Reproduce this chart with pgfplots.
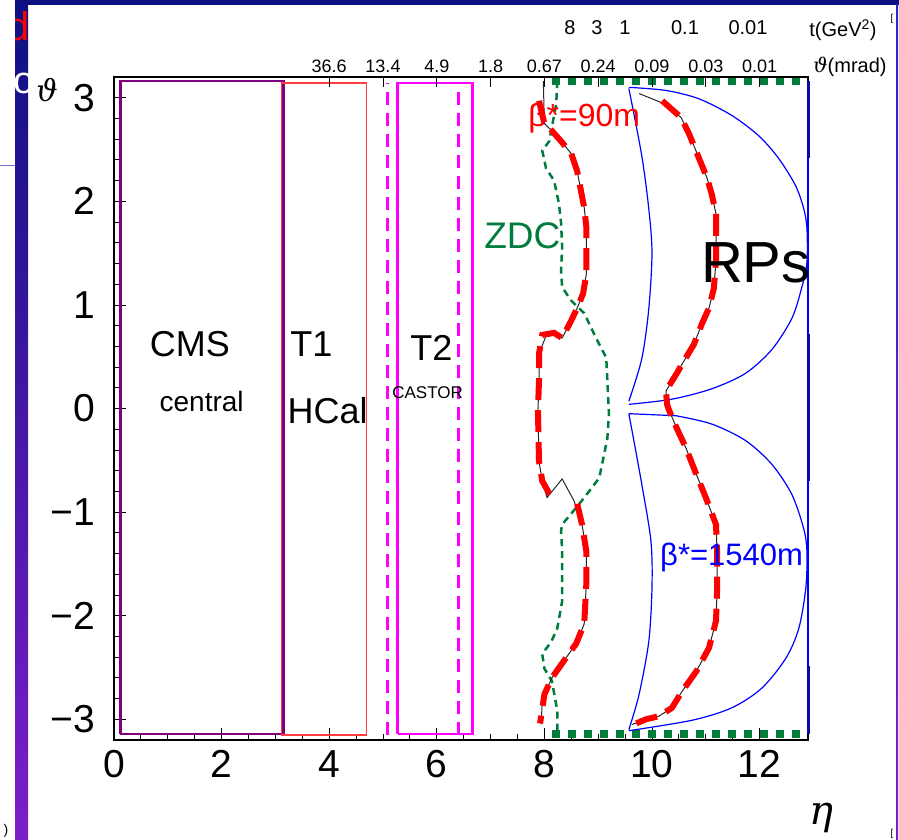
\documentclass[border=0pt]{standalone}
\usepackage{fontspec}
\setmainfont{Liberation Sans}
\newfontfamily\grk{DejaVu Serif}
\usepackage{pgfplots}
\pgfplotsset{compat=1.18}
\definecolor{navy}{RGB}{12,16,130}
\definecolor{barmid}{RGB}{25,30,200}
\definecolor{barbot}{RGB}{125,30,200}
\definecolor{cmspurple}{RGB}{128,0,128}
\definecolor{t1red}{RGB}{255,60,60}
\definecolor{mag}{RGB}{255,0,255}
\definecolor{zdcgreen}{RGB}{0,125,60}
\definecolor{rpred}{RGB}{255,0,0}
\definecolor{rpblue}{RGB}{0,0,255}
\definecolor{darkblue}{RGB}{10,10,170}
\newcommand\tfont{\fontsize{39}{40}\selectfont}
\begin{document}
\begin{tikzpicture}
\path[use as bounding box] (0pt,0pt) rectangle (899pt,840pt);
% slide decoration
\shade[top color=navy, middle color=barmid, bottom color=barbot] (15pt,0pt) rectangle (28pt,840pt);
\fill[navy] (15pt,835pt) rectangle (899pt,840pt);
\draw[color={rgb,255:red,110;green,110;blue,200}, line width=1pt] (0pt,674pt) -- (15pt,674pt);
\shade[top color={rgb,255:red,40;green,40;blue,200}, bottom color=barbot] (896pt,0pt) rectangle (898pt,835pt);
\begin{scope}
\clip (15pt,0pt) rectangle (28pt,840pt);
\node[text=red, font=\fontsize{40}{40}\selectfont, anchor=east, inner sep=0pt] at (29.5pt,814pt) {\makebox[13pt][r]{d}};
\node[text=white, font=\fontsize{38}{38}\selectfont, anchor=west, inner sep=0pt] at (13pt,757pt) {\makebox[13pt][l]{o}};
\end{scope}
\node[font=\fontsize{14}{14}\selectfont, inner sep=0pt] at (6pt,9pt) {)};
\node[font=\fontsize{10}{10}\selectfont, inner sep=0pt] at (892pt,6pt) {[};
\node[font=\fontsize{10}{10}\selectfont, inner sep=0pt] at (892pt,821pt) {[};

\begin{axis}[at={(114pt,100pt)}, anchor=south west,
  width=694pt, height=663pt, scale only axis, clip=false,
  xmin=0, xmax=12.9, ymin=-3.2, ymax=3.2,
  xtick={0,2,...,12}, xticklabels={0,2,4,6,8,10,12},
  minor x tick num=3,
  ytick={-3,...,3}, yticklabels={−3,−2,−1,0,1,2,3},
  minor y tick num=4,
  tick align=inside, xtick pos=bottom, ytick pos=left,
  major tick length=12pt, minor tick length=6pt,
  tick style={black, line width=0.8pt},
  axis line style={black, line width=1.2pt},
  xticklabel style={font=\tfont, inner sep=0pt, yshift=-10pt},
  yticklabel style={font=\tfont, inner sep=0pt, xshift=-19pt},
]
% CMS central
\addplot[cmspurple, line width=2.5pt] coordinates {(0.12,-3.14)(3.15,-3.14)(3.15,3.16)(0.12,3.16)(0.12,-3.14)};
% T1 HCal
\addplot[t1red, line width=1.5pt] coordinates {(3.11,-3.15)(4.69,-3.15)(4.69,3.14)(3.11,3.14)(3.11,-3.15)};
% T2 / CASTOR
\addplot[mag, line width=2.5pt] coordinates {(5.27,-3.14)(6.66,-3.14)(6.66,3.14)(5.27,3.14)(5.27,-3.14)};
\addplot[mag, line width=2.5pt, dash pattern=on 13pt off 8pt] coordinates {(5.08,-3.15)(5.08,3.14)};
\addplot[mag, line width=2.5pt, dash pattern=on 13pt off 8pt] coordinates {(6.40,-3.15)(6.40,3.14)};
% ZDC
\addplot[zdcgreen, line width=8pt, dash pattern=on 8pt off 8pt] coordinates {(8.15,3.16)(12.78,3.16)};
\addplot[zdcgreen, line width=8pt, dash pattern=on 8pt off 8pt] coordinates {(8.15,-3.14)(12.78,-3.14)};
\addplot[zdcgreen, line width=2.5pt, dash pattern=on 7pt off 5pt] coordinates {
(8.24,3.16)(8.22,2.94)(8.09,2.58)(7.96,2.49)(8.03,2.32)(8.18,2.20)(8.27,1.98)(8.31,1.79)
(8.33,1.56)(8.31,1.33)(8.33,1.17)(8.50,1.04)(8.74,0.92)(8.96,0.68)(9.15,0.49)(9.17,0.27)
(9.20,-0.05)(9.17,-0.29)(9.02,-0.67)(8.83,-0.80)(8.65,-0.92)(8.33,-1.12)(8.31,-1.18)
(8.33,-1.38)(8.33,-1.86)(8.24,-2.12)(8.13,-2.25)(7.96,-2.37)(8.00,-2.51)(8.14,-2.63)
(8.24,-2.92)(8.24,-3.14)};
% RP beta*=1540m (blue)
\addplot[rpblue, line width=1.2pt, smooth] coordinates {
(9.57,3.09)(9.81,2.44)(9.94,1.93)(10.00,1.50)(9.94,0.96)(9.81,0.48)(9.57,0.07)};
\addplot[rpblue, line width=1.2pt, smooth] coordinates {
(9.57,3.10)(10.26,3.07)(10.87,2.99)(11.48,2.83)(11.99,2.63)(12.36,2.41)(12.67,2.15)(12.82,1.93)
(12.88,1.74)(12.88,1.41)(12.78,1.16)(12.60,0.87)(12.23,0.57)(11.74,0.34)(11.11,0.19)(10.37,0.09)(9.57,0.04)};
\addplot[rpblue, line width=1.2pt] coordinates {(9.57,-0.05)(10.45,-0.07)};
\addplot[rpblue, line width=1.2pt, smooth] coordinates {
(10.45,-0.07)(11.11,-0.15)(11.74,-0.31)(12.23,-0.54)(12.60,-0.83)(12.82,-1.16)(12.88,-1.38)
(12.86,-1.73)(12.73,-2.12)(12.49,-2.41)(12.04,-2.70)(11.48,-2.89)(10.74,-3.01)(9.57,-3.11)};
\addplot[rpblue, line width=1.2pt, smooth] coordinates {
(9.57,-0.05)(9.81,-0.73)(9.98,-1.28)(10.00,-1.73)(9.94,-2.25)(9.76,-2.76)(9.57,-3.10)};
\addplot[darkblue, line width=3pt] coordinates {(12.9,3.16)(12.9,2.42)};
\addplot[rpblue, line width=1.2pt] coordinates {(12.9,2.42)(12.9,0.72)};
\addplot[darkblue, line width=3pt] coordinates {(12.9,0.72)(12.9,-0.70)};
\addplot[rpblue, line width=1.2pt] coordinates {(12.9,-0.70)(12.9,-2.49)};
\addplot[darkblue, line width=3pt] coordinates {(12.9,-2.49)(12.9,-3.14)};
% RP beta*=90m (black acceptance + red dashed)
\addplot[black!85, line width=1pt] coordinates {
(7.98,3.16)(8.00,2.75)(8.14,2.68)(8.31,2.58)(8.50,2.46)(8.61,2.29)(8.68,2.10)(8.74,1.94)
(8.78,1.75)(8.78,1.55)(8.78,1.30)(8.72,1.11)(8.61,0.97)(8.50,0.85)(8.33,0.68)(8.18,0.72)
(8.03,0.70)(7.90,0.53)(7.90,0.27)(7.88,-0.02)(7.90,-0.51)(7.96,-0.70)(8.05,-0.86)(8.33,-0.68)
(8.55,-0.89)(8.70,-1.12)(8.78,-1.38)(8.78,-1.69)(8.74,-2.08)(8.59,-2.27)(8.33,-2.46)
(8.14,-2.60)(8.00,-2.76)(7.96,-2.83)(7.94,-3.05)};
\addplot[black!85, line width=1pt] coordinates {
(9.76,3.04)(10.19,2.95)(10.54,2.81)(10.69,2.65)(10.87,2.42)(11.02,2.23)(11.11,2.07)(11.19,1.88)
(11.19,1.65)(11.19,1.43)(11.15,1.16)(11.06,0.97)(10.93,0.82)(10.78,0.62)(10.63,0.49)(10.45,0.33)
(10.26,0.17)(10.28,0.04)(10.32,-0.02)(10.46,-0.19)(10.63,-0.38)(10.82,-0.63)(11.00,-0.86)
(11.19,-1.12)(11.21,-1.38)(11.21,-1.76)(11.19,-2.05)(11.06,-2.31)(10.82,-2.54)(10.56,-2.73)
(10.37,-2.89)(10.13,-2.97)(9.89,-3.00)(9.63,-3.05)};
\addplot[rpred, line width=6pt, dash pattern=on 22pt off 10pt] coordinates {
(7.90,2.97)(8.00,2.75)(8.14,2.68)(8.31,2.58)(8.50,2.46)(8.61,2.29)(8.68,2.10)(8.74,1.94)
(8.78,1.75)(8.78,1.55)(8.78,1.30)(8.72,1.11)(8.61,0.97)(8.50,0.85)(8.33,0.68)(8.18,0.73)
(7.96,0.71)(7.90,0.53)(7.90,0.27)(7.88,-0.02)(7.90,-0.51)(7.96,-0.70)(8.09,-0.82)(8.24,-0.86)};
\addplot[rpred, line width=6pt, dash pattern=on 22pt off 10pt] coordinates {
(8.61,-0.92)(8.70,-1.12)(8.78,-1.38)(8.78,-1.69)(8.74,-2.08)(8.59,-2.27)(8.33,-2.46)
(8.14,-2.60)(8.00,-2.76)(7.92,-3.04)};
\addplot[rpred, line width=6pt, dash pattern=on 22pt off 10pt] coordinates {
(10.19,2.97)(10.54,2.81)(10.69,2.65)(10.87,2.42)(11.02,2.23)(11.11,2.07)(11.19,1.88)
(11.19,1.65)(11.19,1.43)(11.15,1.16)(11.06,0.97)(10.93,0.82)(10.78,0.62)(10.63,0.49)(10.45,0.33)
(10.26,0.17)(10.28,0.04)(10.32,-0.02)(10.46,-0.19)(10.63,-0.38)(10.82,-0.63)(11.00,-0.86)
(11.19,-1.12)(11.21,-1.38)(11.21,-1.76)(11.19,-2.05)(11.06,-2.31)(10.82,-2.54)(10.56,-2.73)
(10.37,-2.89)(10.13,-2.97)(9.89,-3.00)(9.61,-3.06)};
% labels
\node[font=\fontsize{36}{36}\selectfont] at (axis cs:1.41,0.62) {CMS};
\node[font=\fontsize{28}{28}\selectfont] at (axis cs:1.63,0.07) {central};
\node[font=\fontsize{36}{36}\selectfont] at (axis cs:3.67,0.62) {T1};
\node[font=\fontsize{36}{36}\selectfont] at (axis cs:3.97,-0.02) {HCal};
\node[font=\fontsize{36}{36}\selectfont] at (axis cs:5.90,0.58) {T2};
\node[font=\fontsize{17}{17}\selectfont] at (axis cs:5.83,0.15) {CASTOR};
\node[font=\fontsize{37}{37}\selectfont, text=zdcgreen] at (axis cs:7.59,1.67) {ZDC};
\node[font=\fontsize{32}{32}\selectfont, text=rpred] at (axis cs:8.74,2.80) {β*=90m};
\node[font=\fontsize{58}{58}\selectfont] at (axis cs:11.93,1.41) {RPs};
\node[font=\fontsize{31}{31}\selectfont, text=rpblue] at (axis cs:11.48,-1.44) {β*=1540m};
\end{axis}

\begin{axis}[at={(114pt,100pt)}, anchor=south west,
  width=694pt, height=663pt, scale only axis,
  xmin=0, xmax=12.9, ymin=-3.2, ymax=3.2,
  axis x line*=top, axis y line=none, ytick=\empty,
  xtick={4,...,12}, xticklabels={36.6,13.4,4.9,1.8,0.67,0.24,0.09,0.03,0.01},
  tick align=inside, major tick length=10pt,
  tick style={black, line width=0.8pt},
  axis line style={black, line width=1.2pt},
  xticklabel style={font=\fontsize{18}{18}\selectfont, inner sep=0pt, yshift=4pt},
]
\end{axis}

% outer labels
\node[font=\fontsize{20}{20}\selectfont] at (570pt,812pt) {8};
\node[font=\fontsize{20}{20}\selectfont] at (597pt,812pt) {3};
\node[font=\fontsize{20}{20}\selectfont] at (625pt,812pt) {1};
\node[font=\fontsize{20}{20}\selectfont] at (685pt,812pt) {0.1};
\node[font=\fontsize{20}{20}\selectfont] at (748pt,812pt) {0.01};
\node[font=\fontsize{20}{20}\selectfont] at (843pt,810pt) {t(GeV\textsuperscript{2})};
\node[font=\fontsize{20}{20}\selectfont] at (850pt,773pt) {{\grk\itshape ϑ}(mrad)};
\node[font=\fontsize{30}{30}\selectfont, inner sep=0pt] at (47pt,750pt) {\grk\itshape ϑ};
\node[font=\fontsize{40}{40}\selectfont] at (821pt,22pt) {\grk\itshape η};
\end{tikzpicture}
\end{document}
